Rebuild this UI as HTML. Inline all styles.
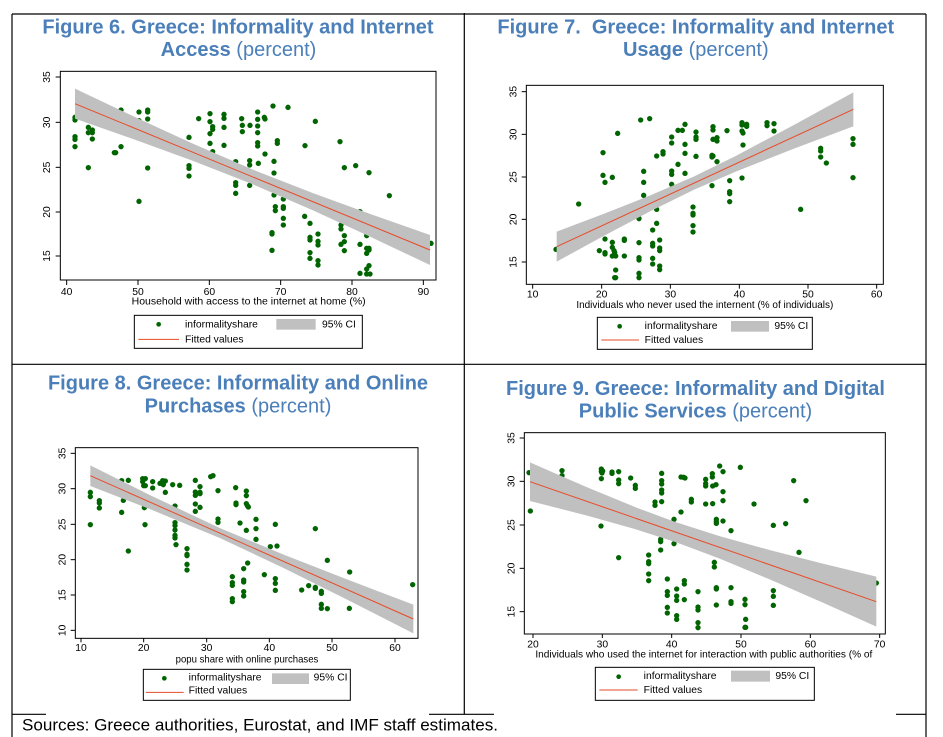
<!DOCTYPE html>
<html><head><meta charset="utf-8"><style>
html,body{margin:0;padding:0;background:#fff;}
body{width:943px;height:737px;overflow:hidden;}
svg{display:block;font-family:"Liberation Sans",Arial,sans-serif;}
.t{font-size:20px;font-weight:bold;fill:#4b7fb9;}
.tn{font-weight:normal;}
.tk{font-size:31px;fill:#000;}
.lg{font-size:31px;fill:#000;}
.d circle{fill:#006400;}
</style></head><body>
<svg width="943" height="737" viewBox="0 0 943 737" xmlns="http://www.w3.org/2000/svg">
<rect width="943" height="737" fill="#fff"/>
<g stroke="#000" stroke-width="1.2" fill="none">
<line x1="12" y1="14" x2="926" y2="14"/>
<line x1="12" y1="14" x2="12" y2="737"/>
<line x1="464.3" y1="13" x2="464.3" y2="714.3"/>
<line x1="926" y1="14" x2="926" y2="737"/>
<line x1="12" y1="364.3" x2="926" y2="364.3"/>
<line x1="12" y1="714.3" x2="46" y2="714.3"/>
<line x1="429" y1="714.3" x2="494" y2="714.3"/>
<line x1="896" y1="714.3" x2="926" y2="714.3"/>
</g>
<text class="t" x="238" y="33.3" text-anchor="middle">Figure 6. Greece: Informality and Internet</text>
<text class="t" x="238.5" y="56" text-anchor="middle">Access <tspan class="tn">(percent)</tspan></text>
<text class="t" x="695.8" y="33.3" text-anchor="middle" style="white-space:pre">Figure 7.&#160; Greece: Informality and Internet</text>
<text class="t" x="695.8" y="56" text-anchor="middle">Usage <tspan class="tn">(percent)</tspan></text>
<text class="t" x="238" y="389.3" text-anchor="middle">Figure 8. Greece: Informality and Online</text>
<text class="t" x="238" y="412.3" text-anchor="middle">Purchases <tspan class="tn">(percent)</tspan></text>
<text class="t" x="695.5" y="395" text-anchor="middle">Figure 9. Greece: Informality and Digital</text>
<text class="t" x="695.5" y="417.7" text-anchor="middle">Public Services <tspan class="tn">(percent)</tspan></text>
<text x="22" y="730.5" font-size="16.5" fill="#000" textLength="476" lengthAdjust="spacingAndGlyphs">Sources: Greece authorities, Eurostat, and IMF staff estimates.</text>

<!-- FIGURE 6 -->
<g transform="translate(0,0) scale(0.333333)">
<g class="d">
<circle cx="225" cy="352" r="8"/><circle cx="225" cy="360" r="8"/><circle cx="225" cy="410" r="8"/><circle cx="225" cy="418" r="8"/><circle cx="225" cy="440" r="8"/><circle cx="265" cy="382" r="8"/><circle cx="265" cy="398" r="8"/><circle cx="277" cy="390" r="8"/><circle cx="277" cy="398" r="8"/><circle cx="277" cy="417" r="8"/><circle cx="265" cy="503" r="8"/><circle cx="343" cy="458" r="8"/><circle cx="347" cy="458" r="8"/><circle cx="363" cy="330" r="8"/><circle cx="363" cy="440" r="8"/><circle cx="417" cy="336" r="8"/><circle cx="417" cy="362" r="8"/><circle cx="443" cy="330" r="8"/><circle cx="443" cy="336" r="8"/><circle cx="443" cy="357" r="8"/><circle cx="443" cy="504" r="8"/><circle cx="417" cy="604" r="8"/><circle cx="567" cy="412" r="8"/><circle cx="567" cy="497" r="8"/><circle cx="567" cy="505" r="8"/><circle cx="567" cy="528" r="8"/><circle cx="596" cy="356" r="8"/><circle cx="630" cy="341" r="8"/><circle cx="630" cy="365" r="8"/><circle cx="630" cy="401" r="8"/><circle cx="630" cy="430" r="8"/><circle cx="638" cy="380" r="8"/><circle cx="638" cy="388" r="8"/><circle cx="638" cy="455" r="8"/><circle cx="672" cy="343" r="8"/><circle cx="672" cy="355" r="8"/><circle cx="672" cy="382" r="8"/><circle cx="672" cy="436" r="8"/><circle cx="707" cy="485" r="8"/><circle cx="707" cy="548" r="8"/><circle cx="707" cy="556" r="8"/><circle cx="707" cy="580" r="8"/><circle cx="725" cy="356" r="8"/><circle cx="727" cy="376" r="8"/><circle cx="727" cy="395" r="8"/><circle cx="750" cy="376" r="8"/><circle cx="749" cy="482" r="8"/><circle cx="749" cy="495" r="8"/><circle cx="749" cy="556" r="8"/><circle cx="773" cy="336" r="8"/><circle cx="773" cy="358" r="8"/><circle cx="773" cy="378" r="8"/><circle cx="773" cy="398" r="8"/><circle cx="773" cy="428" r="8"/><circle cx="773" cy="438" r="8"/><circle cx="775" cy="490" r="8"/><circle cx="793" cy="352" r="8"/><circle cx="795" cy="357" r="8"/><circle cx="795" cy="462" r="8"/><circle cx="819" cy="318" r="8"/><circle cx="822" cy="484" r="8"/><circle cx="822" cy="519" r="8"/><circle cx="822" cy="585" r="8"/><circle cx="826" cy="620" r="8"/><circle cx="826" cy="632" r="8"/><circle cx="832" cy="422" r="8"/><circle cx="832" cy="430" r="8"/><circle cx="850" cy="597" r="8"/><circle cx="850" cy="620" r="8"/><circle cx="850" cy="625" r="8"/><circle cx="850" cy="655" r="8"/><circle cx="850" cy="675" r="8"/><circle cx="816" cy="698" r="8"/><circle cx="816" cy="702" r="8"/><circle cx="816" cy="751" r="8"/><circle cx="864" cy="322" r="8"/><circle cx="915" cy="437" r="8"/><circle cx="914" cy="649" r="8"/><circle cx="930" cy="670" r="8"/><circle cx="930" cy="712" r="8"/><circle cx="930" cy="720" r="8"/><circle cx="930" cy="758" r="8"/><circle cx="930" cy="775" r="8"/><circle cx="946" cy="364" r="8"/><circle cx="954" cy="702" r="8"/><circle cx="954" cy="724" r="8"/><circle cx="954" cy="735" r="8"/><circle cx="954" cy="782" r="8"/><circle cx="954" cy="795" r="8"/><circle cx="1020" cy="425" r="8"/><circle cx="1023" cy="675" r="8"/><circle cx="1023" cy="687" r="8"/><circle cx="1023" cy="733" r="8"/><circle cx="1033" cy="707" r="8"/><circle cx="1033" cy="725" r="8"/><circle cx="1033" cy="752" r="8"/><circle cx="1033" cy="503" r="8"/><circle cx="1067" cy="497" r="8"/><circle cx="1080" cy="733" r="8"/><circle cx="1080" cy="820" r="8"/><circle cx="1080" cy="635" r="8"/><circle cx="1100" cy="707" r="8"/><circle cx="1100" cy="745" r="8"/><circle cx="1100" cy="760" r="8"/><circle cx="1100" cy="807" r="8"/><circle cx="1100" cy="822" r="8"/><circle cx="1107" cy="518" r="8"/><circle cx="1107" cy="745" r="8"/><circle cx="1107" cy="750" r="8"/><circle cx="1107" cy="797" r="8"/><circle cx="1110" cy="822" r="8"/><circle cx="1168" cy="587" r="8"/><circle cx="1293" cy="730" r="8"/>
</g>
<polygon fill="#c0c0c0" points="225,266 400,348.8 575,429.5 757,508.3 940,579.9 1115,643.5 1290,704.9 1290,795.1 1115,712.3 940,631.5 757,552.3 575,481.1 400,417.4 225,356"/>
<line x1="225" y1="311" x2="1290" y2="750" stroke="#e84a27" stroke-width="3"/>
<rect x="181" y="214" width="1127" height="626" fill="none" stroke="#000" stroke-width="3"/>
<g stroke="#000" stroke-width="3">
<line x1="167" y1="231" x2="181" y2="231"/><line x1="167" y1="367" x2="181" y2="367"/><line x1="167" y1="502" x2="181" y2="502"/><line x1="167" y1="636" x2="181" y2="636"/><line x1="167" y1="768" x2="181" y2="768"/>
<line x1="200" y1="840" x2="200" y2="855"/><line x1="414" y1="840" x2="414" y2="855"/><line x1="628" y1="840" x2="628" y2="855"/><line x1="842" y1="840" x2="842" y2="855"/><line x1="1056" y1="840" x2="1056" y2="855"/><line x1="1270" y1="840" x2="1270" y2="855"/>
</g>
<g class="tk" text-anchor="middle">
<text x="150" y="231" transform="rotate(-90 150 231)">35</text><text x="150" y="367" transform="rotate(-90 150 367)">30</text><text x="150" y="502" transform="rotate(-90 150 502)">25</text><text x="150" y="636" transform="rotate(-90 150 636)">20</text><text x="150" y="768" transform="rotate(-90 150 768)">15</text>
<text x="200" y="885">40</text><text x="414" y="885">50</text><text x="628" y="885">60</text><text x="842" y="885">70</text><text x="1056" y="885">80</text><text x="1270" y="885">90</text>
</g>
<text class="tk" x="395" y="914" textLength="702" lengthAdjust="spacingAndGlyphs">Household with access to the internet at home (%)</text>
<rect x="403" y="946" width="684" height="99" fill="#fff" stroke="#000" stroke-width="3"/>
<circle cx="476" cy="973" r="7" fill="#006400"/>
<text class="lg" x="555" y="982">informalityshare</text>
<rect x="829" y="957" width="118" height="32" fill="#c0c0c0"/>
<text class="lg" x="966" y="982">95% CI</text>
<line x1="415" y1="1018" x2="537" y2="1018" stroke="#e84a27" stroke-width="3"/>
<text class="lg" x="555" y="1027">Fitted values</text>
</g>

<!-- FIGURE 7 -->
<g transform="translate(470,0) scale(0.333333)">
<g class="d">
<circle cx="258" cy="748" r="8"/><circle cx="326" cy="612" r="8"/><circle cx="388" cy="752" r="8"/><circle cx="399" cy="458" r="8"/><circle cx="399" cy="526" r="8"/><circle cx="405" cy="547" r="8"/><circle cx="405" cy="717" r="8"/><circle cx="405" cy="758" r="8"/><circle cx="405" cy="762" r="8"/><circle cx="427" cy="532" r="8"/><circle cx="427" cy="727" r="8"/><circle cx="427" cy="742" r="8"/><circle cx="427" cy="768" r="8"/><circle cx="432" cy="752" r="8"/><circle cx="434" cy="758" r="8"/><circle cx="437" cy="768" r="8"/><circle cx="437" cy="810" r="8"/><circle cx="434" cy="833" r="8"/><circle cx="437" cy="833" r="8"/><circle cx="443" cy="400" r="8"/><circle cx="463" cy="717" r="8"/><circle cx="463" cy="721" r="8"/><circle cx="463" cy="768" r="8"/><circle cx="507" cy="656" r="8"/><circle cx="507" cy="728" r="8"/><circle cx="507" cy="773" r="8"/><circle cx="507" cy="780" r="8"/><circle cx="507" cy="820" r="8"/><circle cx="507" cy="833" r="8"/><circle cx="512" cy="360" r="8"/><circle cx="521" cy="514" r="8"/><circle cx="521" cy="547" r="8"/><circle cx="521" cy="586" r="8"/><circle cx="539" cy="356" r="8"/><circle cx="548" cy="690" r="8"/><circle cx="548" cy="730" r="8"/><circle cx="548" cy="738" r="8"/><circle cx="548" cy="775" r="8"/><circle cx="548" cy="792" r="8"/><circle cx="560" cy="468" r="8"/><circle cx="560" cy="628" r="8"/><circle cx="560" cy="670" r="8"/><circle cx="569" cy="720" r="8"/><circle cx="569" cy="744" r="8"/><circle cx="569" cy="752" r="8"/><circle cx="569" cy="798" r="8"/><circle cx="569" cy="809" r="8"/><circle cx="579" cy="455" r="8"/><circle cx="579" cy="462" r="8"/><circle cx="605" cy="411" r="8"/><circle cx="605" cy="429" r="8"/><circle cx="605" cy="513" r="8"/><circle cx="605" cy="523" r="8"/><circle cx="605" cy="553" r="8"/><circle cx="624" cy="391" r="8"/><circle cx="624" cy="493" r="8"/><circle cx="637" cy="391" r="8"/><circle cx="645" cy="373" r="8"/><circle cx="645" cy="433" r="8"/><circle cx="645" cy="460" r="8"/><circle cx="645" cy="520" r="8"/><circle cx="669" cy="621" r="8"/><circle cx="669" cy="640" r="8"/><circle cx="669" cy="645" r="8"/><circle cx="669" cy="677" r="8"/><circle cx="669" cy="696" r="8"/><circle cx="678" cy="396" r="8"/><circle cx="678" cy="411" r="8"/><circle cx="678" cy="418" r="8"/><circle cx="678" cy="469" r="8"/><circle cx="726" cy="466" r="8"/><circle cx="726" cy="471" r="8"/><circle cx="729" cy="468" r="8"/><circle cx="726" cy="557" r="8"/><circle cx="729" cy="380" r="8"/><circle cx="729" cy="390" r="8"/><circle cx="729" cy="418" r="8"/><circle cx="741" cy="413" r="8"/><circle cx="741" cy="423" r="8"/><circle cx="741" cy="485" r="8"/><circle cx="771" cy="392" r="8"/><circle cx="779" cy="542" r="8"/><circle cx="779" cy="575" r="8"/><circle cx="779" cy="581" r="8"/><circle cx="779" cy="605" r="8"/><circle cx="816" cy="368" r="8"/><circle cx="816" cy="375" r="8"/><circle cx="816" cy="393" r="8"/><circle cx="819" cy="399" r="8"/><circle cx="819" cy="435" r="8"/><circle cx="816" cy="534" r="8"/><circle cx="830" cy="373" r="8"/><circle cx="830" cy="379" r="8"/><circle cx="891" cy="368" r="8"/><circle cx="891" cy="377" r="8"/><circle cx="912" cy="371" r="8"/><circle cx="912" cy="393" r="8"/><circle cx="992" cy="628" r="8"/><circle cx="1052" cy="445" r="8"/><circle cx="1052" cy="453" r="8"/><circle cx="1052" cy="471" r="8"/><circle cx="1069" cy="489" r="8"/><circle cx="1149" cy="416" r="8"/><circle cx="1149" cy="433" r="8"/><circle cx="1149" cy="533" r="8"/>
</g>
<polygon fill="#c0c0c0" points="260,695 400,641.9 540,586.6 671,529.7 800,466.4 975,373.1 1150,277 1150,379 975,444.9 800,513.6 671,569.7 540,634.2 400,708.5 260,785"/>
<line x1="260" y1="740" x2="1150" y2="328" stroke="#e84a27" stroke-width="3"/>
<rect x="169" y="256" width="1071" height="597" fill="none" stroke="#000" stroke-width="3"/>
<g stroke="#000" stroke-width="3">
<line x1="155" y1="275" x2="169" y2="275"/><line x1="155" y1="403" x2="169" y2="403"/><line x1="155" y1="531" x2="169" y2="531"/><line x1="155" y1="658" x2="169" y2="658"/><line x1="155" y1="786" x2="169" y2="786"/>
<line x1="188" y1="853" x2="188" y2="866"/><line x1="395" y1="853" x2="395" y2="866"/><line x1="601" y1="853" x2="601" y2="866"/><line x1="808" y1="853" x2="808" y2="866"/><line x1="1014" y1="853" x2="1014" y2="866"/><line x1="1220" y1="853" x2="1220" y2="866"/>
</g>
<g class="tk" text-anchor="middle">
<text x="140" y="275" transform="rotate(-90 140 275)">35</text><text x="140" y="403" transform="rotate(-90 140 403)">30</text><text x="140" y="531" transform="rotate(-90 140 531)">25</text><text x="140" y="658" transform="rotate(-90 140 658)">20</text><text x="140" y="786" transform="rotate(-90 140 786)">15</text>
<text x="188" y="893">10</text><text x="395" y="893">20</text><text x="601" y="893">30</text><text x="808" y="893">40</text><text x="1014" y="893">50</text><text x="1220" y="893">60</text>
</g>
<text class="tk" x="319" y="924" textLength="771" lengthAdjust="spacingAndGlyphs">Individuals who never used the internent (% of individuals)</text>
<rect x="382" y="952" width="645" height="96" fill="#fff" stroke="#000" stroke-width="3"/>
<circle cx="449" cy="979" r="7" fill="#006400"/>
<text class="lg" x="524" y="987">informalityshare</text>
<rect x="783" y="963" width="114" height="32" fill="#c0c0c0"/>
<text class="lg" x="913" y="987">95% CI</text>
<line x1="394" y1="1020" x2="507" y2="1020" stroke="#e84a27" stroke-width="3"/>
<text class="lg" x="524" y="1029">Fitted values</text>
</g>

<!-- FIGURE 8 -->
<g transform="translate(0,355) scale(0.333333)">
<g class="d">
<circle cx="271" cy="412" r="8"/><circle cx="271" cy="425" r="8"/><circle cx="271" cy="509" r="8"/><circle cx="298" cy="437" r="8"/><circle cx="298" cy="444" r="8"/><circle cx="298" cy="459" r="8"/><circle cx="365" cy="377" r="8"/><circle cx="365" cy="472" r="8"/><circle cx="370" cy="436" r="8"/><circle cx="385" cy="376" r="8"/><circle cx="385" cy="588" r="8"/><circle cx="428" cy="371" r="8"/><circle cx="428" cy="380" r="8"/><circle cx="431" cy="392" r="8"/><circle cx="436" cy="371" r="8"/><circle cx="436" cy="392" r="8"/><circle cx="433" cy="458" r="8"/><circle cx="435" cy="509" r="8"/><circle cx="458" cy="380" r="8"/><circle cx="458" cy="399" r="8"/><circle cx="480" cy="385" r="8"/><circle cx="488" cy="377" r="8"/><circle cx="490" cy="389" r="8"/><circle cx="496" cy="378" r="8"/><circle cx="496" cy="412" r="8"/><circle cx="518" cy="389" r="8"/><circle cx="539" cy="391" r="8"/><circle cx="525" cy="453" r="8"/><circle cx="525" cy="503" r="8"/><circle cx="525" cy="512" r="8"/><circle cx="525" cy="525" r="8"/><circle cx="525" cy="541" r="8"/><circle cx="525" cy="549" r="8"/><circle cx="528" cy="569" r="8"/><circle cx="561" cy="581" r="8"/><circle cx="561" cy="598" r="8"/><circle cx="561" cy="602" r="8"/><circle cx="561" cy="628" r="8"/><circle cx="561" cy="645" r="8"/><circle cx="586" cy="376" r="8"/><circle cx="586" cy="411" r="8"/><circle cx="586" cy="421" r="8"/><circle cx="586" cy="447" r="8"/><circle cx="586" cy="469" r="8"/><circle cx="600" cy="395" r="8"/><circle cx="600" cy="412" r="8"/><circle cx="600" cy="416" r="8"/><circle cx="600" cy="457" r="8"/><circle cx="632" cy="365" r="8"/><circle cx="639" cy="362" r="8"/><circle cx="654" cy="407" r="8"/><circle cx="654" cy="492" r="8"/><circle cx="654" cy="502" r="8"/><circle cx="697" cy="665" r="8"/><circle cx="697" cy="683" r="8"/><circle cx="697" cy="691" r="8"/><circle cx="697" cy="731" r="8"/><circle cx="697" cy="740" r="8"/><circle cx="707" cy="398" r="8"/><circle cx="708" cy="444" r="8"/><circle cx="708" cy="449" r="8"/><circle cx="720" cy="504" r="8"/><circle cx="731" cy="641" r="8"/><circle cx="731" cy="675" r="8"/><circle cx="731" cy="681" r="8"/><circle cx="731" cy="710" r="8"/><circle cx="731" cy="723" r="8"/><circle cx="739" cy="408" r="8"/><circle cx="739" cy="422" r="8"/><circle cx="739" cy="446" r="8"/><circle cx="742" cy="452" r="8"/><circle cx="745" cy="456" r="8"/><circle cx="739" cy="526" r="8"/><circle cx="743" cy="624" r="8"/><circle cx="768" cy="493" r="8"/><circle cx="768" cy="521" r="8"/><circle cx="768" cy="553" r="8"/><circle cx="793" cy="659" r="8"/><circle cx="811" cy="575" r="8"/><circle cx="826" cy="508" r="8"/><circle cx="826" cy="671" r="8"/><circle cx="826" cy="685" r="8"/><circle cx="826" cy="706" r="8"/><circle cx="831" cy="573" r="8"/><circle cx="905" cy="705" r="8"/><circle cx="926" cy="692" r="8"/><circle cx="946" cy="521" r="8"/><circle cx="946" cy="697" r="8"/><circle cx="946" cy="700" r="8"/><circle cx="964" cy="709" r="8"/><circle cx="964" cy="715" r="8"/><circle cx="964" cy="748" r="8"/><circle cx="964" cy="760" r="8"/><circle cx="982" cy="616" r="8"/><circle cx="982" cy="761" r="8"/><circle cx="1049" cy="651" r="8"/><circle cx="1048" cy="760" r="8"/><circle cx="1238" cy="689" r="8"/>
</g>
<polygon fill="#c0c0c0" points="271,331 450,420.4 661,519.7 850,598.6 1045,674.6 1240,749 1240,835 1045,735.8 850,638.6 661,549.7 450,462.4 271,393"/>
<line x1="271" y1="362" x2="1240" y2="792" stroke="#e84a27" stroke-width="3"/>
<rect x="226" y="278" width="1028" height="572" fill="none" stroke="#000" stroke-width="3"/>
<g stroke="#000" stroke-width="3">
<line x1="212" y1="295" x2="226" y2="295"/><line x1="212" y1="401" x2="226" y2="401"/><line x1="212" y1="508" x2="226" y2="508"/><line x1="212" y1="614" x2="226" y2="614"/><line x1="212" y1="720" x2="226" y2="720"/><line x1="212" y1="826" x2="226" y2="826"/>
<line x1="243" y1="850" x2="243" y2="862"/><line x1="431" y1="850" x2="431" y2="862"/><line x1="620" y1="850" x2="620" y2="862"/><line x1="808" y1="850" x2="808" y2="862"/><line x1="996" y1="850" x2="996" y2="862"/><line x1="1185" y1="850" x2="1185" y2="862"/>
</g>
<g class="tk" text-anchor="middle">
<text x="197" y="295" transform="rotate(-90 197 295)">35</text><text x="197" y="401" transform="rotate(-90 197 401)">30</text><text x="197" y="508" transform="rotate(-90 197 508)">25</text><text x="197" y="614" transform="rotate(-90 197 614)">20</text><text x="197" y="720" transform="rotate(-90 197 720)">15</text><text x="197" y="826" transform="rotate(-90 197 826)">10</text>
<text x="243" y="888">10</text><text x="431" y="888">20</text><text x="620" y="888">30</text><text x="808" y="888">40</text><text x="996" y="888">50</text><text x="1185" y="888">60</text>
</g>
<text class="tk" x="527" y="922" textLength="428" lengthAdjust="spacingAndGlyphs">popu share with online purchases</text>
<rect x="430" y="943" width="621" height="93" fill="#fff" stroke="#000" stroke-width="3"/>
<circle cx="493" cy="970" r="7" fill="#006400"/>
<text class="lg" x="566" y="977">informalityshare</text>
<rect x="816" y="955" width="111" height="32" fill="#c0c0c0"/>
<text class="lg" x="941" y="977">95% CI</text>
<line x1="438" y1="1012" x2="551" y2="1012" stroke="#e84a27" stroke-width="3"/>
<text class="lg" x="566" y="1016">Fitted values</text>
</g>

<!-- FIGURE 9 -->
<g transform="translate(470,355) scale(0.333333)">
<g class="d">
<circle cx="177" cy="353" r="8"/><circle cx="181" cy="468" r="8"/><circle cx="276" cy="347" r="8"/><circle cx="276" cy="362" r="8"/><circle cx="394" cy="342" r="8"/><circle cx="394" cy="350" r="8"/><circle cx="396" cy="354" r="8"/><circle cx="394" cy="371" r="8"/><circle cx="398" cy="348" r="8"/><circle cx="393" cy="513" r="8"/><circle cx="426" cy="351" r="8"/><circle cx="426" cy="355" r="8"/><circle cx="446" cy="350" r="8"/><circle cx="446" cy="375" r="8"/><circle cx="446" cy="386" r="8"/><circle cx="446" cy="608" r="8"/><circle cx="482" cy="369" r="8"/><circle cx="496" cy="391" r="8"/><circle cx="496" cy="400" r="8"/><circle cx="536" cy="600" r="8"/><circle cx="536" cy="620" r="8"/><circle cx="536" cy="626" r="8"/><circle cx="536" cy="657" r="8"/><circle cx="536" cy="677" r="8"/><circle cx="555" cy="441" r="8"/><circle cx="555" cy="451" r="8"/><circle cx="575" cy="355" r="8"/><circle cx="575" cy="377" r="8"/><circle cx="575" cy="387" r="8"/><circle cx="575" cy="405" r="8"/><circle cx="575" cy="414" r="8"/><circle cx="575" cy="440" r="8"/><circle cx="572" cy="553" r="8"/><circle cx="572" cy="560" r="8"/><circle cx="572" cy="585" r="8"/><circle cx="592" cy="672" r="8"/><circle cx="592" cy="710" r="8"/><circle cx="592" cy="721" r="8"/><circle cx="592" cy="757" r="8"/><circle cx="592" cy="774" r="8"/><circle cx="612" cy="493" r="8"/><circle cx="612" cy="566" r="8"/><circle cx="620" cy="702" r="8"/><circle cx="620" cy="723" r="8"/><circle cx="620" cy="736" r="8"/><circle cx="620" cy="782" r="8"/><circle cx="620" cy="793" r="8"/><circle cx="633" cy="471" r="8"/><circle cx="633" cy="366" r="8"/><circle cx="641" cy="367" r="8"/><circle cx="645" cy="369" r="8"/><circle cx="643" cy="677" r="8"/><circle cx="643" cy="687" r="8"/><circle cx="643" cy="734" r="8"/><circle cx="664" cy="433" r="8"/><circle cx="664" cy="441" r="8"/><circle cx="684" cy="710" r="8"/><circle cx="684" cy="756" r="8"/><circle cx="684" cy="765" r="8"/><circle cx="684" cy="803" r="8"/><circle cx="684" cy="818" r="8"/><circle cx="707" cy="373" r="8"/><circle cx="707" cy="386" r="8"/><circle cx="707" cy="393" r="8"/><circle cx="707" cy="447" r="8"/><circle cx="727" cy="356" r="8"/><circle cx="727" cy="366" r="8"/><circle cx="728" cy="393" r="8"/><circle cx="728" cy="446" r="8"/><circle cx="738" cy="389" r="8"/><circle cx="733" cy="622" r="8"/><circle cx="733" cy="636" r="8"/><circle cx="739" cy="493" r="8"/><circle cx="739" cy="500" r="8"/><circle cx="739" cy="505" r="8"/><circle cx="739" cy="698" r="8"/><circle cx="739" cy="702" r="8"/><circle cx="739" cy="750" r="8"/><circle cx="749" cy="333" r="8"/><circle cx="759" cy="350" r="8"/><circle cx="759" cy="410" r="8"/><circle cx="759" cy="437" r="8"/><circle cx="759" cy="498" r="8"/><circle cx="783" cy="527" r="8"/><circle cx="783" cy="698" r="8"/><circle cx="783" cy="740" r="8"/><circle cx="783" cy="745" r="8"/><circle cx="811" cy="337" r="8"/><circle cx="825" cy="733" r="8"/><circle cx="825" cy="749" r="8"/><circle cx="827" cy="793" r="8"/><circle cx="825" cy="817" r="8"/><circle cx="827" cy="817" r="8"/><circle cx="852" cy="447" r="8"/><circle cx="910" cy="511" r="8"/><circle cx="910" cy="707" r="8"/><circle cx="910" cy="724" r="8"/><circle cx="910" cy="751" r="8"/><circle cx="947" cy="506" r="8"/><circle cx="971" cy="377" r="8"/><circle cx="987" cy="592" r="8"/><circle cx="1008" cy="437" r="8"/><circle cx="1219" cy="684" r="8"/>
</g>
<polygon fill="#c0c0c0" points="180,322 350,396.3 500,458.1 616,501.1 750,543.8 900,585.4 1060,626.1 1219,665 1219,815 1060,743.7 900,673.6 750,611.2 616,561.1 500,523.7 350,481.5 180,438"/>
<line x1="180" y1="380" x2="1219" y2="740" stroke="#e84a27" stroke-width="3"/>
<rect x="163" y="233" width="1083" height="604" fill="none" stroke="#000" stroke-width="3"/>
<g stroke="#000" stroke-width="3">
<line x1="149" y1="249" x2="163" y2="249"/><line x1="149" y1="379" x2="163" y2="379"/><line x1="149" y1="510" x2="163" y2="510"/><line x1="149" y1="640" x2="163" y2="640"/><line x1="149" y1="770" x2="163" y2="770"/>
<line x1="189" y1="837" x2="189" y2="849"/><line x1="397" y1="837" x2="397" y2="849"/><line x1="605" y1="837" x2="605" y2="849"/><line x1="813" y1="837" x2="813" y2="849"/><line x1="1021" y1="837" x2="1021" y2="849"/><line x1="1229" y1="837" x2="1229" y2="849"/>
</g>
<g class="tk" text-anchor="middle">
<text x="133" y="249" transform="rotate(-90 133 249)">35</text><text x="133" y="379" transform="rotate(-90 133 379)">30</text><text x="133" y="510" transform="rotate(-90 133 510)">25</text><text x="133" y="640" transform="rotate(-90 133 640)">20</text><text x="133" y="770" transform="rotate(-90 133 770)">15</text>
<text x="189" y="878">20</text><text x="397" y="878">30</text><text x="605" y="878">40</text><text x="813" y="878">50</text><text x="1021" y="878">60</text><text x="1229" y="878">70</text>
</g>
<text class="tk" x="196" y="908" textLength="1011" lengthAdjust="spacingAndGlyphs">Individuals who used the internet for interaction with public authorities (% of</text>
<rect x="376" y="937" width="657" height="99" fill="#fff" stroke="#000" stroke-width="3"/>
<circle cx="446" cy="965" r="7" fill="#006400"/>
<text class="lg" x="521" y="972">informalityshare</text>
<rect x="783" y="947" width="117" height="33" fill="#c0c0c0"/>
<text class="lg" x="916" y="972">95% CI</text>
<line x1="388" y1="1005" x2="503" y2="1005" stroke="#e84a27" stroke-width="3"/>
<text class="lg" x="521" y="1014">Fitted values</text>
</g>
</svg>
</body></html>
